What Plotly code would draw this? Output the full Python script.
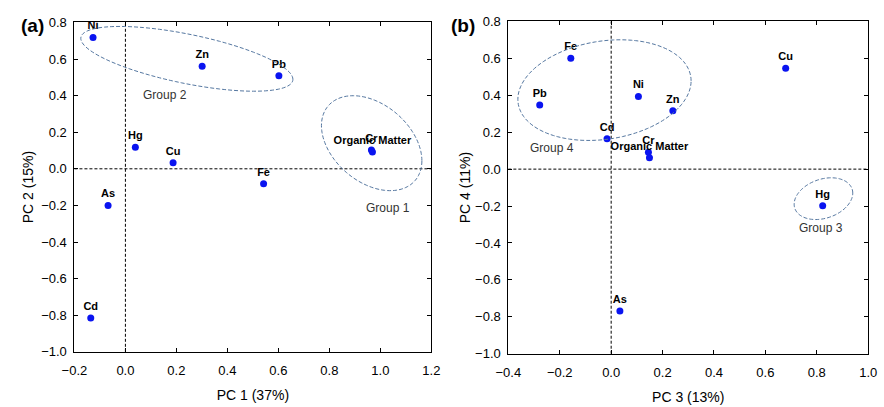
import numpy as np
import plotly.graph_objects as go

# ---- data ----
elements_a = ["Ni", "Zn", "Pb", "Hg", "Cu", "Fe", "Cr", "Organic Matter", "As", "Cd"]
pc1 = [-0.127, 0.301, 0.602, 0.039, 0.187, 0.542, 0.965, 0.969, -0.068, -0.136]
pc2 = [0.718, 0.561, 0.508, 0.118, 0.033, -0.081, 0.103, 0.092, -0.200, -0.815]

elements_b = ["Fe", "Pb", "Ni", "Zn", "Cd", "Cr", "Organic Matter", "Cu", "Hg", "As"]
pc3 = [-0.157, -0.278, 0.106, 0.240, -0.016, 0.145, 0.149, 0.679, 0.823, 0.034]
pc4 = [0.601, 0.347, 0.394, 0.316, 0.165, 0.092, 0.061, 0.546, -0.198, -0.769]

# group ellipses: center (cx, cy), conjugate semi-axis vectors A=(ax, ay), B=(0, by)
groups_a = ["Group 2", "Group 1"]
ell_a_cx = [0.241, 0.966]
ell_a_cy = [0.601, 0.140]
ell_a_ax = [0.416, 0.197]
ell_a_ay = [-0.112, -0.096]
ell_a_by = [0.137, 0.241]
lab_a_x = [0.157, 1.029]
lab_a_y = [0.403, -0.216]

groups_b = ["Group 4", "Group 3"]
ell_b_cx = [-0.026, 0.826]
ell_b_cy = [0.428, -0.160]
ell_b_ax = [0.337, 0.114]
ell_b_ay = [0.050, 0.030]
ell_b_by = [0.268, 0.109]
lab_b_x = [-0.229, 0.815]
lab_b_y = [0.116, -0.317]

FONT = "Liberation Sans, Arial, sans-serif"
MARKER = "#0a14f0"
ELL = "#5577a0"


def ellipse_path(cx, cy, ax, ay, by):
    t = np.linspace(0, 2 * np.pi, 121)
    xs = cx + ax * np.cos(t)
    ys = cy + ay * np.cos(t) + by * np.sin(t)
    pts = [f"{x:.5f},{y:.5f}" for x, y in zip(xs, ys)]
    return "M " + " L ".join(pts) + " Z"


fig = go.Figure()

label_font = dict(family=FONT, size=11, color="black", weight="bold")
fig.add_trace(go.Scatter(
    x=pc1, y=pc2, text=elements_a, mode="markers+text", textposition="top center",
    marker=dict(color=MARKER, size=7), xaxis="x", yaxis="y",
    textfont=label_font, cliponaxis=False, showlegend=False))
fig.add_trace(go.Scatter(
    x=pc3, y=pc4, text=elements_b, mode="markers+text", textposition="top center",
    marker=dict(color=MARKER, size=7), xaxis="x2", yaxis="y2",
    textfont=label_font, cliponaxis=False, showlegend=False))

shapes = []
annotations = []
for xr, yr in (("x", "y"), ("x2", "y2")):
    shapes.append(dict(type="line", xref=xr, yref=f"{yr} domain", x0=0, x1=0, y0=0, y1=1,
                       line=dict(color="black", width=1, dash="3px,2px"), layer="below"))
    shapes.append(dict(type="line", xref=f"{xr} domain", yref=yr, x0=0, x1=1, y0=0, y1=0,
                       line=dict(color="black", width=1, dash="3px,2px"), layer="below"))

grp_font = dict(family=FONT, size=12, color="#333333")
for i, g in enumerate(groups_a):
    shapes.append(dict(type="path", xref="x", yref="y",
                       path=ellipse_path(ell_a_cx[i], ell_a_cy[i], ell_a_ax[i], ell_a_ay[i], ell_a_by[i]),
                       line=dict(color=ELL, width=1, dash="4px,2px")))
    annotations.append(dict(x=lab_a_x[i], y=lab_a_y[i], xref="x", yref="y", text=g, showarrow=False,
                            font=grp_font))
for i, g in enumerate(groups_b):
    shapes.append(dict(type="path", xref="x2", yref="y2",
                       path=ellipse_path(ell_b_cx[i], ell_b_cy[i], ell_b_ax[i], ell_b_ay[i], ell_b_by[i]),
                       line=dict(color=ELL, width=1, dash="4px,2px")))
    annotations.append(dict(x=lab_b_x[i], y=lab_b_y[i], xref="x2", yref="y2", text=g, showarrow=False,
                            font=grp_font))

panel_font = dict(family=FONT, size=19, color="black", weight="bold")
annotations.append(dict(x=6 / 884, y=1 - 19 / 407, xref="paper", yref="paper", text="(a)", showarrow=False,
                        xanchor="left", yanchor="middle", font=panel_font))
annotations.append(dict(x=447 / 884, y=1 - 19 / 407, xref="paper", yref="paper", text="(b)", showarrow=False,
                        xanchor="left", yanchor="middle", font=panel_font))

axis_common = dict(showline=True, linecolor="black", linewidth=1, mirror="ticks", ticks="inside",
                   ticklen=4, tickcolor="black", showgrid=False, zeroline=False, tickformat=".1f",
                   tickfont=dict(family=FONT, size=13, color="black"),
                   title_font=dict(family=FONT, size=14, color="black"))

fig.update_layout(
    width=884, height=407, margin=dict(l=0, r=0, t=0, b=0),
    paper_bgcolor="white", plot_bgcolor="white",
    shapes=shapes, annotations=annotations,
    xaxis=dict(axis_common, domain=[63 / 884, 429 / 884], range=[-0.2, 1.2], dtick=0.2, ticklabelstandoff=7,
               title=dict(text="PC 1 (37%)", standoff=12), anchor="y"),
    yaxis=dict(axis_common, domain=[1 - 358 / 407, 1 - 16 / 407], range=[-1.0, 0.8], dtick=0.2, ticklabelstandoff=4,
               title=dict(text="PC 2 (15%)", standoff=4), anchor="x"),
    xaxis2=dict(axis_common, domain=[508 / 884, 877 / 884], range=[-0.4, 1.0], dtick=0.2, ticklabelstandoff=7,
                title=dict(text="PC 3 (13%)", standoff=12), anchor="y2"),
    yaxis2=dict(axis_common, domain=[1 - 360 / 407, 1 - 15 / 407], range=[-1.0, 0.8], dtick=0.2, ticklabelstandoff=4,
                title=dict(text="PC 4 (11%)", standoff=1), anchor="x2"),
)

fig.write_html("out.html")
